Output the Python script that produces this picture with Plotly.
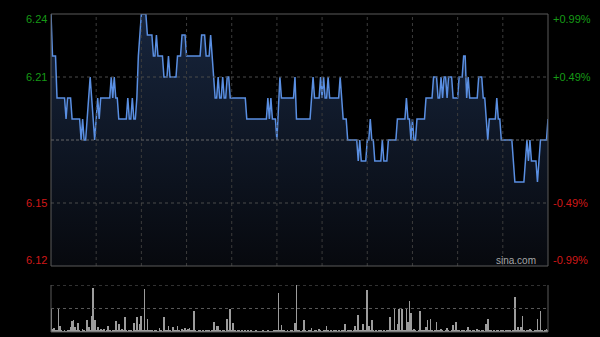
import plotly.graph_objects as go

# ---- data ----
minutes = list(range(331))

price = [
    6.24, 6.22, 6.22, 6.22, 6.20, 6.20, 6.20, 6.20, 6.20, 6.20,
    6.19, 6.20, 6.20, 6.20, 6.19, 6.19, 6.19, 6.19, 6.19, 6.19,
    6.18, 6.19, 6.18, 6.18, 6.19, 6.20, 6.21, 6.20, 6.19, 6.18,
    6.19, 6.20, 6.19, 6.20, 6.20, 6.20, 6.20, 6.20, 6.20, 6.20,
    6.21, 6.20, 6.21, 6.20, 6.20, 6.19, 6.19, 6.19, 6.19, 6.19,
    6.19, 6.20, 6.19, 6.19, 6.20, 6.19, 6.19, 6.20, 6.22, 6.23,
    6.24, 6.24, 6.24, 6.24, 6.23, 6.23, 6.23, 6.23, 6.22, 6.22,
    6.23, 6.22, 6.22, 6.22, 6.22, 6.21, 6.21, 6.21, 6.22, 6.21,
    6.21, 6.21, 6.21, 6.21, 6.22, 6.22, 6.22, 6.23, 6.23, 6.23,
    6.22, 6.22, 6.22, 6.22, 6.22, 6.22, 6.22, 6.22, 6.22, 6.22,
    6.23, 6.23, 6.23, 6.22, 6.22, 6.22, 6.23, 6.22, 6.21, 6.20,
    6.20, 6.21, 6.20, 6.20, 6.21, 6.20, 6.20, 6.21, 6.21, 6.20,
    6.20, 6.20, 6.20, 6.20, 6.20, 6.20, 6.20, 6.20, 6.20, 6.20,
    6.19, 6.19, 6.19, 6.19, 6.19, 6.19, 6.19, 6.19, 6.19, 6.19,
    6.19, 6.19, 6.19, 6.19, 6.20, 6.19, 6.20, 6.19, 6.19, 6.19,
    6.18, 6.20, 6.21, 6.20, 6.20, 6.20, 6.20, 6.20, 6.20, 6.20,
    6.20, 6.20, 6.21, 6.19, 6.19, 6.19, 6.19, 6.19, 6.19, 6.19,
    6.19, 6.19, 6.19, 6.20, 6.21, 6.20, 6.20, 6.20, 6.20, 6.21,
    6.20, 6.21, 6.20, 6.20, 6.21, 6.20, 6.20, 6.20, 6.20, 6.20,
    6.20, 6.20, 6.21, 6.20, 6.19, 6.19, 6.19, 6.18, 6.18, 6.18,
    6.18, 6.18, 6.18, 6.18, 6.17, 6.18, 6.17, 6.17, 6.17, 6.17,
    6.18, 6.18, 6.19, 6.18, 6.18, 6.17, 6.17, 6.17, 6.17, 6.17,
    6.18, 6.17, 6.17, 6.17, 6.18, 6.18, 6.18, 6.18, 6.18, 6.18,
    6.19, 6.19, 6.19, 6.19, 6.19, 6.19, 6.20, 6.19, 6.19, 6.18,
    6.19, 6.18, 6.18, 6.19, 6.19, 6.19, 6.19, 6.19, 6.19, 6.20,
    6.20, 6.20, 6.20, 6.20, 6.21, 6.21, 6.21, 6.20, 6.20, 6.21,
    6.20, 6.21, 6.21, 6.20, 6.21, 6.21, 6.21, 6.20, 6.20, 6.20,
    6.20, 6.21, 6.21, 6.21, 6.22, 6.22, 6.20, 6.21, 6.20, 6.20,
    6.20, 6.20, 6.20, 6.20, 6.21, 6.21, 6.21, 6.20, 6.20, 6.19,
    6.18, 6.19, 6.19, 6.19, 6.19, 6.19, 6.20, 6.19, 6.19, 6.18,
    6.18, 6.18, 6.18, 6.18, 6.18, 6.18, 6.18, 6.17, 6.16, 6.16,
    6.16, 6.16, 6.16, 6.16, 6.16, 6.17, 6.18, 6.17, 6.18, 6.17,
    6.17, 6.17, 6.17, 6.16, 6.17, 6.18, 6.18, 6.18, 6.18, 6.18, 6.19,
]

volume = [
    52, 6, 8, 4, 3, 48, 13, 3, 2, 3,
    2, 3, 4, 11, 23, 25, 10, 4, 20, 3,
    2, 6, 3, 2, 25, 11, 4, 34, 93, 25,
    3, 11, 4, 6, 3, 7, 2, 3, 13, 3,
    2, 4, 3, 24, 3, 18, 4, 7, 3, 31,
    3, 2, 4, 3, 2, 20, 4, 31, 3, 17,
    34, 4, 91, 3, 28, 4, 3, 5, 2, 4,
    3, 2, 8, 3, 2, 32, 4, 3, 13, 3,
    2, 10, 3, 4, 13, 3, 2, 7, 4, 8,
    3, 7, 9, 4, 3, 45, 3, 2, 4, 3,
    2, 3, 2, 4, 5, 3, 2, 4, 22, 3,
    13, 12, 3, 2, 4, 3, 2, 27, 4, 50,
    3, 20, 3, 2, 4, 3, 2, 3, 2, 3,
    2, 4, 2, 3, 2, 2, 3, 2, 1, 2,
    2, 3, 2, 2, 3, 2, 1, 2, 3, 5,
    4, 84, 3, 15, 4, 3, 2, 3, 2, 4,
    3, 2, 20, 100, 4, 3, 2, 3, 25, 3,
    2, 4, 3, 8, 2, 3, 4, 2, 6, 3,
    2, 3, 4, 13, 3, 2, 3, 2, 4, 5,
    2, 3, 2, 4, 3, 17, 2, 3, 4, 3,
    2, 3, 13, 4, 36, 3, 4, 17, 3, 4,
    89, 13, 4, 25, 3, 2, 3, 2, 3, 5,
    2, 3, 2, 4, 3, 31, 4, 3, 49, 3,
    17, 49, 4, 49, 3, 4, 49, 22, 67, 40,
    4, 6, 3, 2, 4, 45, 3, 4, 3, 10,
    25, 4, 27, 3, 2, 4, 21, 3, 4, 6,
    3, 2, 4, 8, 3, 2, 4, 15, 3, 21,
    4, 3, 2, 4, 3, 2, 4, 11, 3, 2,
    3, 4, 2, 6, 3, 2, 4, 3, 2, 17,
    27, 3, 4, 2, 3, 2, 5, 3, 2, 4,
    3, 2, 4, 3, 5, 3, 2, 4, 75, 3,
    10, 4, 10, 34, 3, 2, 4, 3, 6, 3,
    2, 4, 3, 27, 4, 45, 3, 2, 4, 6, 3,
]

prev_close = 6.18
price_min, price_max = 6.12, 6.24
tick_values = [6.24, 6.21, 6.15, 6.12]
left_labels = ["6.24", "6.21", "6.15", "6.12"]
right_labels = ["+0.99%", "+0.49%", "-0.49%", "-0.99%"]
grid_prices = [6.21, 6.15]
grid_minutes = [30, 60, 90, 120, 150, 180, 210, 240, 270, 300]
volume_max = 100

GREEN = "#169a16"
RED = "#d01818"
GRID = "#3c3c3c"
BORDER = "#5a5a5a"

fig = go.Figure()

fig.add_trace(go.Scatter(
    x=minutes, y=price, mode="lines",
    line=dict(color="#5a8fe2", width=1.5),
    fill="tozeroy",
    fillgradient=dict(type="vertical",
                      colorscale=[[0, "#07090e"], [1, "#17253d"]],
                      start=price_min, stop=price_max),
    xaxis="x", yaxis="y", hoverinfo="skip",
))

fig.add_trace(go.Bar(
    x=minutes, y=volume, width=0.5,
    marker=dict(color="#9c9c9c", line=dict(width=0)),
    xaxis="x2", yaxis="y2", hoverinfo="skip",
))

shapes = []
for m in grid_minutes:
    shapes.append(dict(type="line", xref="x", yref="y domain", x0=m, x1=m, y0=0, y1=1,
                       line=dict(color=GRID, width=1, dash="dot"), layer="above"))
for p in grid_prices:
    shapes.append(dict(type="line", xref="x domain", yref="y", x0=0, x1=1, y0=p, y1=p,
                       line=dict(color="#4a4a4a", width=1, dash="dot"), layer="above"))
shapes.append(dict(type="line", xref="x domain", yref="y", x0=0, x1=1, y0=prev_close, y1=prev_close,
                   line=dict(color="#666666", width=1, dash="3px,2px"), layer="above"))
shapes.append(dict(type="rect", xref="x domain", yref="y domain", x0=0, x1=1, y0=0, y1=1,
                   line=dict(color=BORDER, width=1), layer="above"))
shapes.append(dict(type="line", xref="x2 domain", yref="y2", x0=0, x1=1, y0=volume_max, y1=volume_max,
                   line=dict(color="#666666", width=1, dash="dot"), layer="above"))
shapes.append(dict(type="line", xref="x2 domain", yref="y2", x0=0, x1=1, y0=volume_max / 2, y1=volume_max / 2,
                   line=dict(color="#5a5a5a", width=1, dash="dot"), layer="above"))
shapes.append(dict(type="line", xref="x2 domain", yref="y2 domain", x0=0, x1=1, y0=0, y1=0,
                   line=dict(color=BORDER, width=1), layer="above"))
shapes.append(dict(type="line", xref="x2 domain", yref="y2 domain", x0=0, x1=0, y0=0, y1=1,
                   line=dict(color=BORDER, width=1), layer="above"))
shapes.append(dict(type="line", xref="x2 domain", yref="y2 domain", x0=1, x1=1, y0=0, y1=1,
                   line=dict(color=BORDER, width=1), layer="above"))

annotations = []
yshifts = [-5, 0, 0, 6]
for v, ll, rl, ys in zip(tick_values, left_labels, right_labels, yshifts):
    col = GREEN if v > prev_close else RED
    annotations.append(dict(x=0, xref="x domain", y=v, yref="y", text=ll, showarrow=False,
                            xanchor="right", yanchor="middle", xshift=-2, yshift=ys,
                            font=dict(family="Arial, Liberation Sans", size=11, color=col)))
    annotations.append(dict(x=1, xref="x domain", y=v, yref="y", text=rl, showarrow=False,
                            xanchor="left", yanchor="middle", xshift=3, yshift=ys,
                            font=dict(family="Arial, Liberation Sans", size=11, color=col)))
annotations.append(dict(x=1, xref="x domain", y=0, yref="y domain", text="sina.com", showarrow=False,
                        xanchor="right", yanchor="bottom", xshift=-10, yshift=-2,
                        font=dict(family="Arial, Liberation Sans", size=10, color="#a6a6a6")))

fig.update_layout(
    width=600, height=337,
    margin=dict(l=51, r=52, t=14, b=5),
    paper_bgcolor="#000000", plot_bgcolor="#000000",
    showlegend=False,
    bargap=0,
    xaxis=dict(domain=[0, 1], range=[0, 330], visible=False, anchor="y"),
    yaxis=dict(domain=[0.2075, 1], range=[price_min, price_max], visible=False, anchor="x"),
    xaxis2=dict(domain=[0, 1], range=[0, 330], visible=False, anchor="y2"),
    yaxis2=dict(domain=[0, 0.1478], range=[0, volume_max], visible=False, anchor="x2"),
    shapes=shapes,
    annotations=annotations,
)

fig.write_html("out.html")
